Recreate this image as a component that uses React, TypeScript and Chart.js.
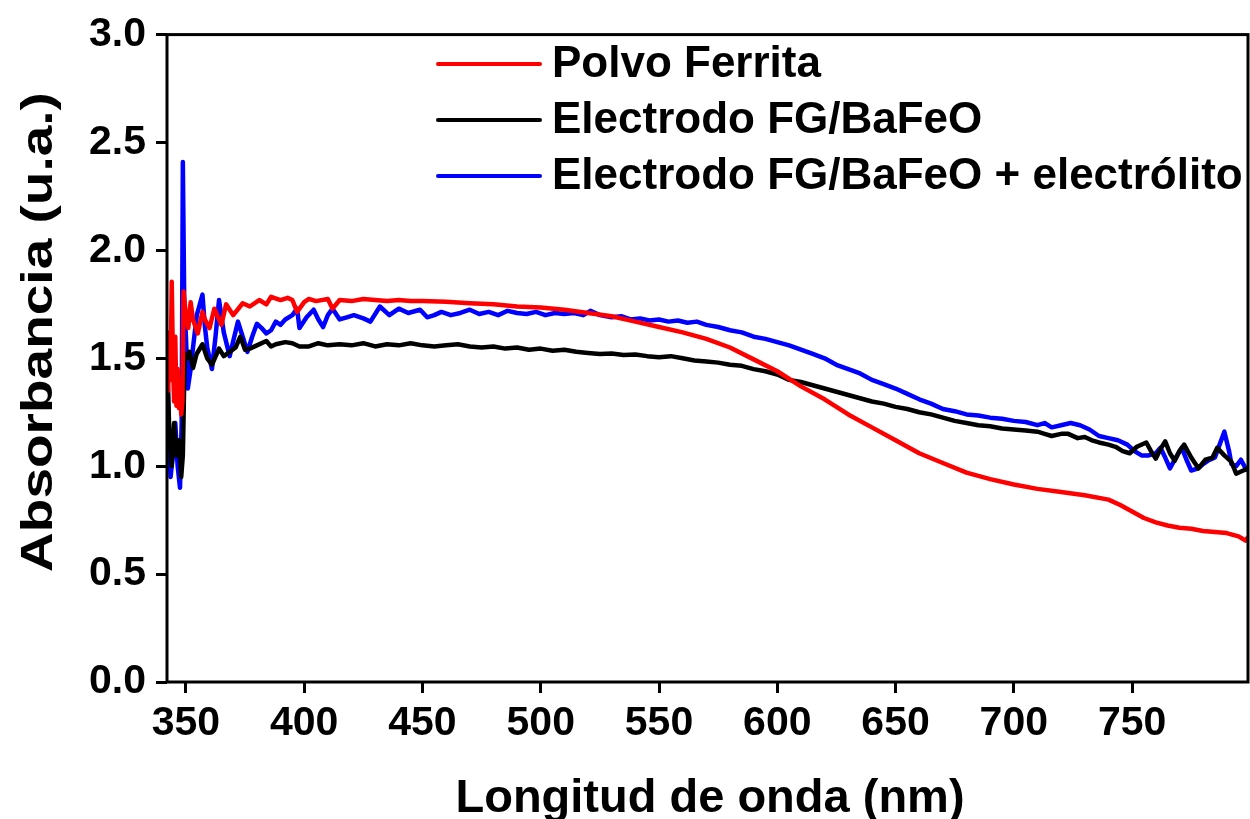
import React, { useEffect, useRef } from 'react';
import { Chart, registerables } from 'chart.js';

Chart.register(...registerables);

const FONT = '"Liberation Sans", Arial, Helvetica, sans-serif';

const seriesLabels = ['Polvo Ferrita', 'Electrodo FG/BaFeO', 'Electrodo FG/BaFeO + electrólito'];
const seriesColors = ['#ff0000', '#000000', '#0000ff'];
const xTitle = 'Longitud de onda (nm)';
const yTitle = 'Absorbancia (u.a.)';

const redNm = [342, 342.5, 343, 343.5, 344, 344.5, 345, 345.5, 346, 346.5, 347, 347.5, 348, 348.5, 349, 350, 351, 352, 353, 355, 357, 358, 360, 362, 365, 367, 370, 374, 377, 381, 384, 386, 390, 393, 395, 397, 400, 402, 405, 410, 412, 415, 420, 425, 430, 435, 440, 445, 450, 460, 470, 480, 490, 500, 510, 520, 530, 540, 550, 560, 570, 580, 590, 600, 610, 620, 630, 640, 650, 660, 670, 680, 690, 700, 710, 720, 730, 740, 745, 750, 755, 760, 765, 770, 775, 780, 785, 790, 795, 798, 799];
const redAbs = [1.49, 1.35, 1.62, 1.40, 1.855, 1.50, 1.30, 1.60, 1.28, 1.45, 1.27, 1.40, 1.24, 1.30, 1.81, 1.70, 1.64, 1.76, 1.68, 1.615, 1.715, 1.68, 1.64, 1.73, 1.655, 1.75, 1.70, 1.755, 1.74, 1.77, 1.75, 1.785, 1.77, 1.78, 1.77, 1.715, 1.76, 1.775, 1.765, 1.775, 1.73, 1.77, 1.765, 1.775, 1.77, 1.765, 1.77, 1.765, 1.765, 1.762, 1.755, 1.75, 1.74, 1.735, 1.725, 1.71, 1.695, 1.67, 1.645, 1.62, 1.59, 1.55, 1.495, 1.44, 1.37, 1.31, 1.24, 1.18, 1.12, 1.06, 1.015, 0.97, 0.94, 0.915, 0.895, 0.88, 0.865, 0.845, 0.82, 0.79, 0.76, 0.74, 0.725, 0.715, 0.71, 0.70, 0.695, 0.69, 0.675, 0.655, 0.67];

const blackNm = [342, 343, 344, 345, 346, 347, 348, 348.7, 349.5, 350.4, 351.5, 353, 354.5, 357, 359, 361, 364, 366, 368.5, 371, 373, 375, 377, 380, 384, 386, 388, 392, 395, 398, 402, 406, 410, 415, 420, 425, 430, 435, 440, 445, 450, 455, 460, 465, 470, 475, 480, 485, 490, 495, 500, 505, 510, 515, 520, 525, 530, 535, 540, 545, 550, 555, 560, 565, 570, 575, 580, 585, 590, 595, 600, 605, 610, 615, 620, 625, 630, 635, 640, 645, 650, 655, 660, 665, 670, 675, 680, 685, 690, 695, 700, 705, 710, 713, 716, 720, 723, 727, 730, 733, 736, 740, 743, 746, 749, 752, 756, 758, 760, 762, 764, 766, 768, 770, 772, 775, 778, 781, 784, 786, 789, 792, 794, 797, 799];
const blackAbs = [1.50, 1.15, 1.00, 1.20, 1.05, 1.12, 0.95, 1.05, 1.52, 1.50, 1.53, 1.455, 1.52, 1.565, 1.50, 1.47, 1.545, 1.51, 1.53, 1.55, 1.60, 1.54, 1.545, 1.56, 1.58, 1.555, 1.565, 1.575, 1.57, 1.555, 1.555, 1.57, 1.56, 1.565, 1.56, 1.57, 1.555, 1.565, 1.56, 1.57, 1.56, 1.555, 1.56, 1.565, 1.555, 1.55, 1.555, 1.545, 1.55, 1.54, 1.545, 1.535, 1.54, 1.53, 1.525, 1.52, 1.522, 1.515, 1.518, 1.51, 1.505, 1.51, 1.50, 1.49, 1.485, 1.48, 1.47, 1.465, 1.45, 1.44, 1.425, 1.40, 1.39, 1.375, 1.36, 1.345, 1.33, 1.315, 1.30, 1.29, 1.275, 1.265, 1.25, 1.24, 1.225, 1.21, 1.20, 1.19, 1.185, 1.175, 1.17, 1.165, 1.16, 1.15, 1.14, 1.15, 1.15, 1.13, 1.135, 1.12, 1.11, 1.10, 1.09, 1.07, 1.06, 1.09, 1.11, 1.07, 1.035, 1.08, 1.115, 1.06, 1.025, 1.07, 1.10, 1.04, 0.99, 1.03, 1.04, 1.085, 1.05, 1.02, 0.965, 0.98, 0.99];

const blueNm = [342, 343, 343.5, 344.5, 345.5, 346.5, 347.5, 348.2, 348.7, 349.3, 350, 350.8, 352, 353, 354.6, 357, 358, 359, 361, 362.5, 364, 366, 368.5, 370, 372, 374, 376, 378, 380, 382, 384, 386, 388, 390, 392, 395, 397, 398, 401, 404, 406, 408, 410, 412, 415, 418, 421, 425, 428, 432, 436, 440, 444, 449, 452, 455, 458, 462, 466, 470, 474, 478, 482, 486, 490, 494, 498, 502, 506, 510, 514, 518, 521, 525, 530, 534, 538, 542, 546, 550, 554, 558, 562, 566, 570, 575, 580, 585, 590, 595, 600, 605, 610, 615, 620, 625, 630, 635, 640, 645, 650, 655, 660, 665, 670, 675, 680, 685, 690, 695, 700, 705, 710, 713, 716, 720, 724, 728, 732, 736, 740, 744, 748, 751, 754, 757, 760, 762, 764, 766, 768, 771, 773, 775, 778, 780, 782, 785, 787, 789, 791, 792, 794, 796, 798, 799];
const blueAbs = [1.50, 1.10, 0.95, 1.05, 1.20, 1.00, 0.90, 1.20, 2.41, 1.75, 1.60, 1.36, 1.45, 1.55, 1.70, 1.795, 1.65, 1.55, 1.45, 1.60, 1.77, 1.62, 1.51, 1.58, 1.67, 1.60, 1.53, 1.60, 1.66, 1.64, 1.615, 1.63, 1.67, 1.655, 1.68, 1.70, 1.73, 1.64, 1.69, 1.725, 1.68, 1.645, 1.70, 1.73, 1.68, 1.69, 1.70, 1.685, 1.67, 1.74, 1.70, 1.73, 1.71, 1.725, 1.69, 1.70, 1.715, 1.70, 1.71, 1.725, 1.705, 1.715, 1.70, 1.72, 1.71, 1.705, 1.715, 1.70, 1.71, 1.705, 1.71, 1.70, 1.72, 1.70, 1.69, 1.695, 1.68, 1.685, 1.675, 1.68, 1.67, 1.675, 1.665, 1.67, 1.655, 1.645, 1.63, 1.62, 1.60, 1.59, 1.575, 1.56, 1.54, 1.52, 1.50, 1.47, 1.45, 1.43, 1.40, 1.38, 1.36, 1.335, 1.31, 1.29, 1.265, 1.255, 1.24, 1.235, 1.225, 1.22, 1.21, 1.205, 1.19, 1.20, 1.18, 1.19, 1.20, 1.19, 1.17, 1.14, 1.13, 1.12, 1.10, 1.07, 1.05, 1.05, 1.06, 1.085, 1.04, 0.99, 1.03, 1.085, 1.03, 0.98, 0.99, 1.01, 1.025, 1.04, 1.10, 1.16, 1.07, 1.01, 1.00, 1.03, 0.99, 0.98];

const xMin = 342;
const xMax = 799;
const yMin = 0;
const yMax = 3;

const toPoints = (xs: number[], ys: number[]) => xs.map((x, i) => ({ x, y: ys[i] }));

export default function App() {
  const canvasRef = useRef<HTMLCanvasElement>(null);

  useEffect(() => {
    document.body.style.margin = '0';
    const canvas = canvasRef.current;
    if (!canvas) return;

    const framePlugin = {
      id: 'framePlugin',
      afterDatasetsDraw(chart: any) {
        const { ctx, chartArea } = chart;
        ctx.save();
        ctx.strokeStyle = '#000';
        ctx.lineWidth = 3;
        ctx.strokeRect(chartArea.left, chartArea.top, chartArea.right - chartArea.left, chartArea.bottom - chartArea.top);
        ctx.restore();
      },
      afterDraw(chart: any) {
        const { ctx } = chart;
        ctx.save();
        // legend
        chart.data.datasets.forEach((ds: any, i: number) => {
          const y = 64 + i * 56;
          ctx.strokeStyle = ds.borderColor;
          ctx.lineWidth = 4;
          ctx.lineCap = 'round';
          ctx.beginPath();
          ctx.moveTo(438, y);
          ctx.lineTo(540, y);
          ctx.stroke();
          ctx.fillStyle = '#000';
          ctx.font = `bold 44px ${FONT}`;
          ctx.textAlign = 'left';
          ctx.textBaseline = 'middle';
          ctx.fillText(ds.label, 552, y + 1);
        });
        // x title
        ctx.fillStyle = '#000';
        ctx.font = `bold 47px ${FONT}`;
        ctx.textAlign = 'center';
        ctx.textBaseline = 'alphabetic';
        ctx.fillText(xTitle, 710, 812);
        // y title
        ctx.translate(52, 332);
        ctx.rotate(-Math.PI / 2);
        ctx.scale(1.25, 1);
        ctx.font = `bold 44px ${FONT}`;
        ctx.textAlign = 'center';
        ctx.textBaseline = 'alphabetic';
        ctx.fillText(yTitle, 0, 0);
        ctx.restore();
      },
    };

    const tickFont = { family: FONT, size: 41, weight: 'bold' as const };

    const chart = new Chart(canvas, {
      type: 'line',
      data: {
        datasets: [
          { label: seriesLabels[0], data: toPoints(redNm, redAbs), borderColor: seriesColors[0], backgroundColor: seriesColors[0] },
          { label: seriesLabels[1], data: toPoints(blackNm, blackAbs), borderColor: seriesColors[1], backgroundColor: seriesColors[1] },
          { label: seriesLabels[2], data: toPoints(blueNm, blueAbs), borderColor: seriesColors[2], backgroundColor: seriesColors[2] },
        ],
      },
      options: {
        responsive: false,
        animation: false,
        parsing: false as any,
        normalized: true,
        elements: {
          point: { radius: 0, hoverRadius: 0 },
          line: { borderWidth: 4.5, tension: 0, borderJoinStyle: 'round', borderCapStyle: 'round' },
        },
        layout: { padding: { top: 32, right: 2, left: 0, bottom: 0 } },
        plugins: {
          legend: { display: false },
          tooltip: { enabled: false },
          title: { display: false },
        },
        scales: {
          x: {
            type: 'linear',
            min: xMin,
            max: xMax,
            border: { display: false },
            grid: { display: true, drawOnChartArea: false, drawTicks: true, tickLength: 11, tickWidth: 3, tickColor: '#000' },
            ticks: { stepSize: 50, includeBounds: false, font: tickFont, color: '#000', padding: 6, maxRotation: 0, autoSkip: false },
            afterFit: (s: any) => { s.height = 137; },
          },
          y: {
            type: 'linear',
            min: yMin,
            max: yMax,
            border: { display: false },
            grid: { display: true, drawOnChartArea: false, drawTicks: true, tickLength: 11, tickWidth: 3, tickColor: '#000' },
            ticks: { stepSize: 0.5, font: tickFont, color: '#000', padding: 10, callback: (v: any) => Number(v).toFixed(1) },
            afterFit: (s: any) => { s.width = 167; },
          },
        },
      },
      plugins: [framePlugin],
    });

    return () => chart.destroy();
  }, []);

  return (
    <div style={{ width: 1250, height: 819 }}>
      <canvas ref={canvasRef} width={1250} height={819} style={{ display: 'block' }} />
    </div>
  );
}
